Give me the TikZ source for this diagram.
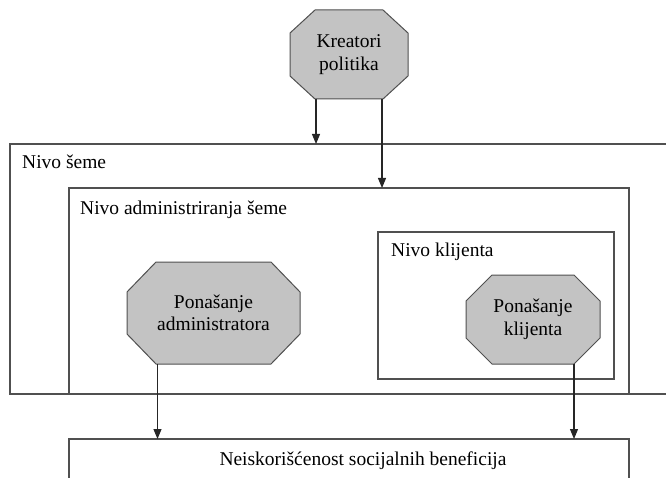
\documentclass[tikz,border=0pt]{standalone}
\usepackage{fontspec}
\setmainfont{Liberation Serif}
\usetikzlibrary{arrows.meta}
\definecolor{linec}{HTML}{505050}
\definecolor{octfill}{HTML}{C3C3C3}
\tikzset{
  levelbox/.style={draw=linec, line width=1.3pt, fill=none, inner sep=0pt, outer sep=0pt, anchor=north west},
  octa/.style={draw=linec, line width=1pt, fill=octfill},
  octtext/.style={inner sep=0pt, align=center, font=\fontsize{19.5}{22.5}\selectfont},
  lbl/.style={anchor=west, inner sep=0pt, font=\fontsize{19.5}{22.5}\selectfont},
  arr/.style={draw=black!85, line width=1.1pt, -{Triangle[length=10pt,width=8pt]}}
}
\begin{document}
\begin{tikzpicture}[x=1pt,y=-1pt]
\useasboundingbox (0,0) rectangle (666,478);
\clip (0,0) rectangle (666,478);
% level boxes
\node[levelbox, minimum width=680pt, minimum height=250pt] (seme) at (10,144) {};
\node[levelbox, minimum width=560pt, minimum height=206pt] (admin) at (69,188) {};
\node[levelbox, minimum width=236pt, minimum height=147pt] (klijent) at (378,232) {};
\node[levelbox, minimum width=560pt, minimum height=70pt] (ishod) at (69,439) {};
% labels
\node[lbl] (lseme) at (22,162) {Nivo šeme};
\node[lbl] (ladmin) at (80,210) {Nivo administriranja šeme};
\node[lbl] (lklijent) at (391,252) {Nivo klijenta};
\node[octtext] (lishod) at (363,461) {Neiskorišćenost socijalnih beneficija};
% octagons
\draw[octa] (315,10) -- (383,10) -- (408,33) -- (408,76) -- (383,99) -- (315,99) -- (290,76) -- (290,33) -- cycle;
\coordinate (kpbl) at (316,99);
\coordinate (kpbr) at (382,99);
\node[octtext] (kp) at (349,54.5) {Kreatori\\politika};
\draw[octa] (156,262) -- (271,262) -- (300,292) -- (300,334) -- (271,364) -- (156,364) -- (127,334) -- (127,292) -- cycle;
\coordinate (pabl) at (157.5,364);
\node[octtext] (pa) at (213.5,313) {Ponašanje\\administratora};
\draw[octa] (492,275) -- (574,275) -- (600,301) -- (600,338) -- (574,364) -- (492,364) -- (466,338) -- (466,301) -- cycle;
\coordinate (pkbr) at (574,364);
\node[octtext] (pk) at (533,319.5) {Ponašanje\\klijenta};
% connectors
\draw[arr] (kpbl) -- (kpbl |- seme.north);
\draw[arr] (kpbr) -- (kpbr |- admin.north);
\draw[arr] (pabl) -- (pabl |- ishod.north);
\draw[arr] (pkbr) -- (pkbr |- ishod.north);
\end{tikzpicture}
\end{document}
